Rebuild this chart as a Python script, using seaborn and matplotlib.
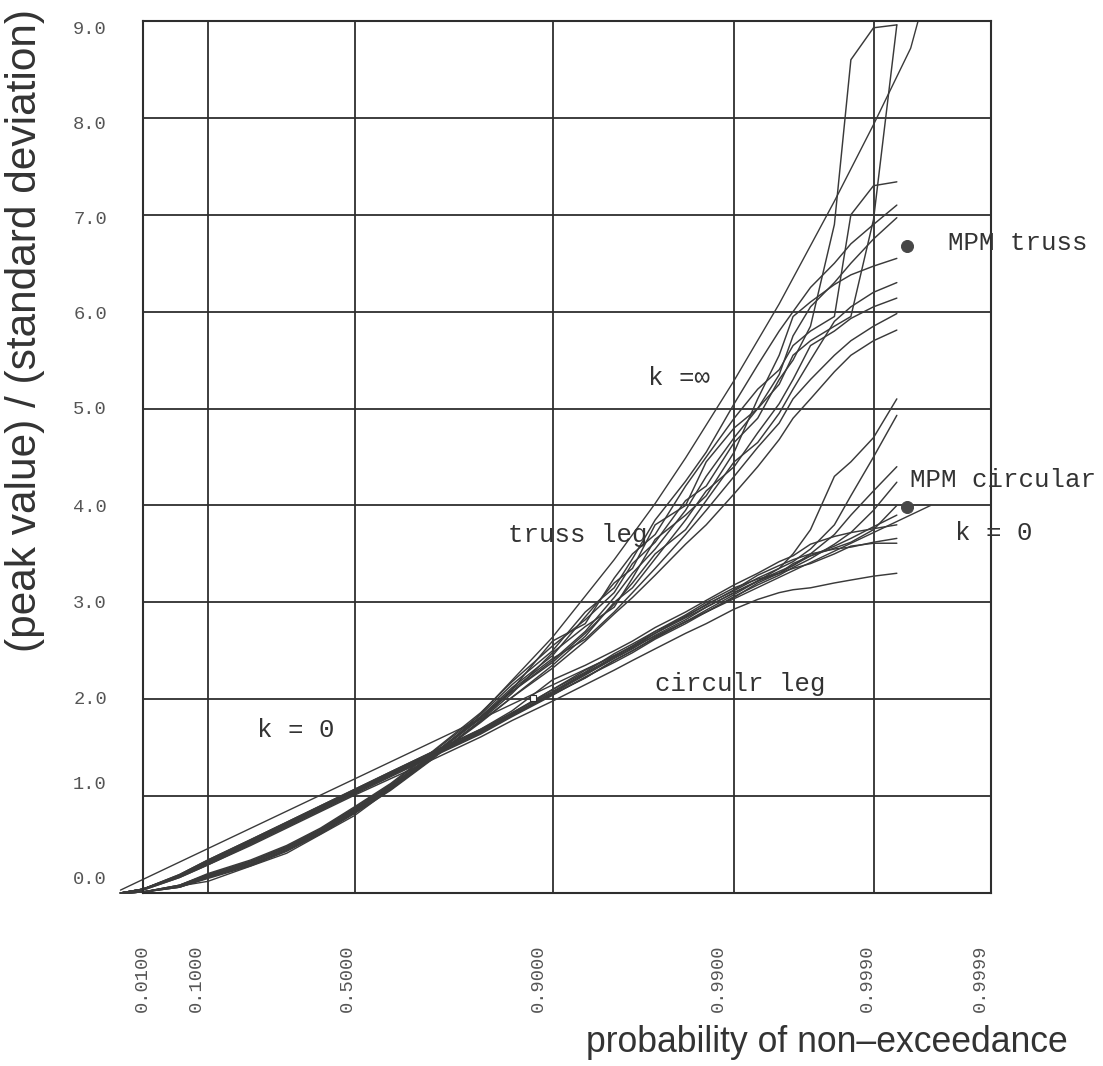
import numpy as np
import pandas as pd
import matplotlib
matplotlib.use("Agg")
import matplotlib.pyplot as plt
import seaborn as sns
from matplotlib.transforms import ScaledTranslation

# ---------------- data ----------------
P_GRID = [0.0005, 0.01, 0.05, 0.1, 0.2, 0.3, 0.4, 0.5, 0.6, 0.7, 0.8, 0.85,
          0.9, 0.93, 0.95, 0.96, 0.97, 0.98, 0.985, 0.99, 0.993, 0.995,
          0.996, 0.997, 0.998, 0.9985, 0.999, 0.99935]

truss_1 = [0, 0.01, 0.08, 0.20, 0.34, 0.49, 0.67, 0.89, 1.13, 1.45, 1.86, 2.18, 2.55, 2.82, 3.10, 3.40, 3.62, 4.05, 4.20, 4.65, 4.90, 5.30, 5.50, 5.85, 6.90, 8.60, 8.93, 8.96]
truss_2 = [0, 0.01, 0.07, 0.18, 0.32, 0.47, 0.65, 0.87, 1.11, 1.42, 1.82, 2.12, 2.45, 2.85, 3.20, 3.35, 3.80, 4.00, 4.45, 4.80, 5.00, 5.25, 5.55, 5.70, 5.85, 5.95, 6.95, 8.96]
truss_3 = [0, 0.01, 0.06, 0.16, 0.29, 0.44, 0.62, 0.83, 1.07, 1.38, 1.78, 2.10, 2.60, 2.78, 3.25, 3.50, 3.70, 4.20, 4.50, 4.90, 5.20, 5.40, 5.65, 5.80, 5.95, 7.00, 7.30, 7.34]
truss_4 = [0, 0.01, 0.08, 0.19, 0.33, 0.48, 0.66, 0.88, 1.12, 1.44, 1.84, 2.15, 2.50, 2.90, 3.15, 3.45, 3.85, 4.25, 4.55, 5.05, 5.45, 5.80, 6.00, 6.25, 6.50, 6.70, 6.90, 7.10]
truss_5 = [0, 0.01, 0.07, 0.17, 0.31, 0.46, 0.64, 0.85, 1.09, 1.40, 1.80, 2.08, 2.40, 2.70, 3.05, 3.30, 3.55, 3.95, 4.30, 4.70, 5.00, 5.35, 5.75, 6.05, 6.30, 6.50, 6.75, 6.97]
truss_6 = [0, 0.01, 0.06, 0.15, 0.28, 0.43, 0.61, 0.82, 1.06, 1.37, 1.78, 2.06, 2.48, 2.75, 2.95, 3.25, 3.65, 3.90, 4.10, 4.55, 5.10, 5.55, 5.95, 6.10, 6.28, 6.38, 6.47, 6.55]
truss_7 = [0, 0.01, 0.07, 0.17, 0.30, 0.45, 0.63, 0.84, 1.08, 1.39, 1.77, 2.02, 2.35, 2.65, 3.00, 3.15, 3.45, 3.85, 4.15, 4.40, 4.75, 5.05, 5.30, 5.65, 5.80, 5.93, 6.05, 6.14]
truss_8 = [0, 0.01, 0.08, 0.19, 0.32, 0.47, 0.65, 0.86, 1.10, 1.41, 1.81, 2.10, 2.42, 2.62, 2.90, 3.10, 3.35, 3.70, 3.95, 4.30, 4.60, 4.85, 5.10, 5.30, 5.55, 5.70, 5.85, 5.98]
truss_9 = [0, 0.01, 0.06, 0.16, 0.29, 0.44, 0.62, 0.83, 1.07, 1.38, 1.76, 2.02, 2.32, 2.60, 2.88, 3.05, 3.28, 3.60, 3.80, 4.12, 4.40, 4.68, 4.90, 5.10, 5.38, 5.55, 5.70, 5.81]
truss_10 = [0, 0.01, 0.07, 0.18, 0.32, 0.47, 0.65, 0.86, 1.10, 1.41, 1.82, 2.08, 2.38, 2.68, 2.98, 3.20, 3.50, 3.75, 4.05, 4.45, 4.65, 4.95, 5.20, 5.50, 5.90, 6.05, 6.20, 6.30]

circ_1 = [0, 0.04, 0.19, 0.34, 0.55, 0.73, 0.90, 1.07, 1.25, 1.45, 1.69, 1.86, 2.08, 2.27, 2.44, 2.55, 2.70, 2.85, 2.98, 3.12, 3.25, 3.35, 3.50, 3.75, 4.30, 4.45, 4.70, 5.10]
circ_2 = [0, 0.04, 0.17, 0.30, 0.51, 0.69, 0.86, 1.03, 1.21, 1.41, 1.65, 1.84, 2.06, 2.25, 2.42, 2.52, 2.66, 2.82, 2.95, 3.10, 3.22, 3.35, 3.42, 3.55, 3.80, 4.10, 4.50, 4.93]
circ_3 = [0, 0.04, 0.18, 0.33, 0.54, 0.72, 0.89, 1.06, 1.23, 1.43, 1.67, 1.83, 2.05, 2.22, 2.40, 2.50, 2.63, 2.80, 2.90, 3.05, 3.20, 3.30, 3.38, 3.50, 3.70, 3.90, 4.15, 4.40]
circ_4 = [0, 0.03, 0.16, 0.29, 0.50, 0.68, 0.85, 1.02, 1.20, 1.40, 1.64, 1.82, 2.04, 2.23, 2.38, 2.48, 2.62, 2.78, 2.90, 3.06, 3.18, 3.28, 3.36, 3.45, 3.60, 3.72, 3.95, 4.24]
circ_5 = [0, 0.04, 0.19, 0.34, 0.55, 0.73, 0.90, 1.07, 1.25, 1.45, 1.68, 1.85, 2.10, 2.30, 2.45, 2.55, 2.68, 2.84, 2.95, 3.10, 3.22, 3.32, 3.38, 3.48, 3.58, 3.66, 3.78, 3.90]
circ_6 = [0, 0.04, 0.17, 0.31, 0.52, 0.70, 0.87, 1.04, 1.22, 1.42, 1.66, 1.84, 2.07, 2.26, 2.43, 2.53, 2.68, 2.86, 2.97, 3.13, 3.28, 3.38, 3.44, 3.50, 3.55, 3.57, 3.62, 3.66]
circ_7 = [0, 0.04, 0.18, 0.32, 0.53, 0.71, 0.88, 1.05, 1.23, 1.43, 1.67, 1.86, 2.10, 2.28, 2.47, 2.57, 2.70, 2.87, 3.00, 3.15, 3.24, 3.30, 3.35, 3.40, 3.50, 3.58, 3.61, 3.61]
circ_8 = [0, 0.03, 0.16, 0.29, 0.49, 0.67, 0.84, 1.01, 1.18, 1.37, 1.61, 1.78, 1.98, 2.15, 2.30, 2.40, 2.52, 2.68, 2.78, 2.93, 3.03, 3.10, 3.13, 3.15, 3.20, 3.23, 3.27, 3.30]
circ_9 = [0, 0.04, 0.17, 0.31, 0.52, 0.70, 0.87, 1.04, 1.22, 1.41, 1.65, 1.83, 2.05, 2.22, 2.40, 2.50, 2.64, 2.80, 2.92, 3.08, 3.22, 3.30, 3.40, 3.48, 3.56, 3.62, 3.75, 4.00]
circ_10 = [0, 0.04, 0.18, 0.32, 0.53, 0.71, 0.88, 1.06, 1.24, 1.44, 1.69, 1.88, 2.20, 2.35, 2.50, 2.60, 2.74, 2.90, 3.02, 3.18, 3.30, 3.42, 3.48, 3.60, 3.68, 3.72, 3.76, 3.80]

K0_P = [0.0005, 0.99966]
K0_Y = [0.03, 4.0]

KINF_P = [0.0005, 0.01, 0.1, 0.3, 0.5, 0.7, 0.8, 0.9, 0.95, 0.97, 0.98, 0.99, 0.995, 0.998, 0.999, 0.9995, 0.999566]
KINF_Y = [0.0, 0.01, 0.12, 0.41, 0.80, 1.38, 1.85, 2.64, 3.44, 4.02, 4.49, 5.29, 6.08, 7.14, 7.93, 8.72, 9.0]

MPM_P = [0.99946, 0.99946]
MPM_Y = [6.68, 3.98]
MPM_LABELS = ["MPM truss", "MPM circular"]

SQ_P = [0.878]
SQ_Y = [2.01]

XTICKS = [0.01, 0.1, 0.5, 0.9, 0.99, 0.999, 0.9999]
XTICK_LABELS = ["0.0100", "0.1000", "0.5000", "0.9000", "0.9900", "0.9990", "0.9999"]
YTICKS = [0, 1, 2, 3, 4, 5, 6, 7, 8, 9]
YTICK_LABELS = ["0.0", "1.0", "2.0", "3.0", "4.0", "5.0", "6.0", "7.0", "8.0", "9.0"]

truss_curves = [truss_1, truss_2, truss_3, truss_4, truss_5, truss_6, truss_7, truss_8, truss_9, truss_10]
circ_curves = [circ_1, circ_2, circ_3, circ_4, circ_5, circ_6, circ_7, circ_8, circ_9, circ_10]

rows = []
for i, ys in enumerate(truss_curves):
    for p, y in zip(P_GRID, ys):
        rows.append((f"truss {i+1}", "truss", p, y))
for i, ys in enumerate(circ_curves):
    for p, y in zip(P_GRID, ys):
        rows.append((f"circ {i+1}", "circular", p, y))
df = pd.DataFrame(rows, columns=["curve", "leg", "p", "y"])

# ---------------- style ----------------
sns.set_style("white")
MONO = ["Liberation Mono", "DejaVu Sans Mono"]
SANS = ["Liberation Sans", "DejaVu Sans"]
INK = "#2e2e2e"
LINE = "#3a3a3a"

fig = plt.figure(figsize=(11.03, 10.66), dpi=100)
W, H = 1103, 1066
ax = fig.add_axes([143 / W, 173 / H, 848 / W, 872 / H])

sns.lineplot(data=df, x="p", y="y", units="curve", estimator=None, sort=False,
             color=LINE, lw=1.05, ax=ax, legend=False)
sns.lineplot(x=K0_P, y=K0_Y, estimator=None, sort=False, color=LINE, lw=1.0, ax=ax)
sns.lineplot(x=KINF_P, y=KINF_Y, estimator=None, sort=False, color=LINE, lw=1.0, ax=ax)
sns.scatterplot(x=MPM_P, y=MPM_Y, s=75, color="#474747", edgecolor="#474747", ax=ax, zorder=5)
sns.scatterplot(x=SQ_P, y=SQ_Y, marker="s", s=22, color="white", edgecolor=INK, linewidth=0.8, ax=ax, zorder=6)

for ln in ax.lines:
    ln.set_clip_on(False)


def fwd(p):
    p = np.clip(np.asarray(p, dtype=float), 0.0, 1 - 1e-12)
    return np.sqrt(-2.0 * np.log1p(-p))


def inv(u):
    u = np.asarray(u, dtype=float)
    return -np.expm1(-u ** 2 / 2.0)


ax.set_xscale("function", functions=(fwd, inv))
ax.set_xlim(0.01, 0.9999)
ax.set_ylim(0, 9)

ax.set_xticks(XTICKS)
ax.set_xticklabels(XTICK_LABELS, rotation=90, fontfamily=MONO, fontsize=13.5, color="#555555")
ax.set_yticks(YTICKS)
ax.set_yticklabels(YTICK_LABELS, fontfamily=MONO, fontsize=13.5, color="#555555")
ax.tick_params(axis="x", length=0, pad=37)
ax.tick_params(axis="y", length=0, pad=26)
ax.set_xlabel("")
ax.set_ylabel("")

ax.grid(True, color=INK, lw=1.3)
ax.set_axisbelow(True)
for sp in ax.spines.values():
    sp.set_visible(True)
    sp.set_color(INK)
    sp.set_linewidth(1.5)

# small per-label shifts, as printed on the original chart (pixels)
XSHIFT = [-1, -11, -7, -14, -16, -6, -11]
for lbl, dx in zip(ax.get_xticklabels(), XSHIFT):
    lbl.set_transform(lbl.get_transform() + ScaledTranslation(dx / 100, 0, fig.dpi_scale_trans))
YSHIFT = [16, 14, 2, 1, 0, 1, -1, -3, -5, -7]
for lbl, dy in zip(ax.get_yticklabels(), YSHIFT):
    lbl.set_transform(lbl.get_transform() + ScaledTranslation(0, dy / 100, fig.dpi_scale_trans))

# annotations
ann = dict(transform=ax.transAxes, ha="left", va="center", fontsize=18.5,
           family=MONO, color="#333333", clip_on=False)
ax.text(0.9493, 0.7454, MPM_LABELS[0], **ann)
ax.text(0.9045, 0.4736, MPM_LABELS[1], **ann)
ax.text(0.9575, 0.4128, "k = 0", **ann)
ax.text(0.5955, 0.5906, "k =\u221e", **ann)
ax.text(0.4304, 0.4106, "truss leg", **ann)
ax.text(0.6038, 0.2397, "circulr leg", **ann)
ax.text(0.1344, 0.1869, "k = 0", **ann)

fig.text(25 / W, 1 - 331 / H, "(peak value) / (standard deviation)", rotation=90,
         ha="center", va="center", fontsize=30.5, family=SANS, color="#333333")
fig.text(1068 / W, 1 - 1043 / H, "probability of non\u2013exceedance",
         ha="right", va="center", fontsize=25.6, family=SANS, color="#333333")

fig.savefig("out.png", dpi=100, facecolor="white")
